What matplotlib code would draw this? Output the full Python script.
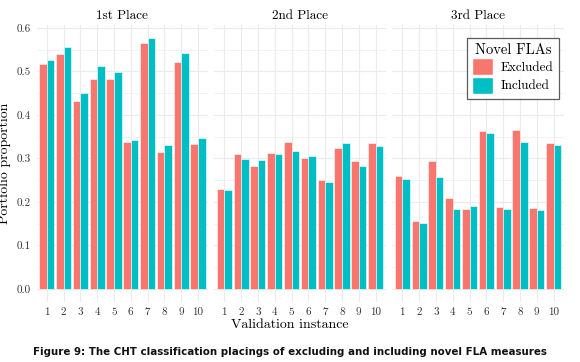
import numpy as np
import matplotlib
matplotlib.use("Agg")
import matplotlib.pyplot as plt
from matplotlib.patches import Patch

# ================= Data =================
instances = [str(i) for i in range(1, 11)]
places = ["1st Place", "2nd Place", "3rd Place"]

first_excluded = [0.516, 0.541, 0.431, 0.482, 0.482, 0.338, 0.566, 0.315, 0.522, 0.334]
first_included = [0.526, 0.555, 0.451, 0.512, 0.498, 0.342, 0.577, 0.331, 0.542, 0.348]
second_excluded = [0.230, 0.309, 0.282, 0.313, 0.338, 0.302, 0.250, 0.325, 0.295, 0.335]
second_included = [0.228, 0.299, 0.297, 0.309, 0.318, 0.305, 0.246, 0.335, 0.283, 0.328]
third_excluded = [0.260, 0.156, 0.293, 0.210, 0.184, 0.364, 0.189, 0.366, 0.186, 0.336]
third_included = [0.252, 0.152, 0.258, 0.183, 0.191, 0.358, 0.183, 0.338, 0.181, 0.331]

excluded = [first_excluded, second_excluded, third_excluded]
included = [first_included, second_included, third_included]

col_excl = "#F8766D"
col_incl = "#00BFC4"
grid_col = "#EBEBEB"

plt.rcParams["font.family"] = "cmr10"
plt.rcParams["mathtext.fontset"] = "cm"
plt.rcParams["axes.formatter.use_mathtext"] = True

fig = plt.figure(figsize=(5.8, 3.62), dpi=100)

# panel geometry (figure fractions)
bottom = 0.167
height = 0.764
width = 0.2957
lefts = [0.0631, 0.3693, 0.6762]

x = np.arange(1, 11)
bw = 0.45
y_lo, y_hi = -0.0289, 0.6066

axes = []
for k in range(3):
    ax = fig.add_axes([lefts[k], bottom, width, height])
    axes.append(ax)
    ax.set_xlim(0.4, 10.6)
    ax.set_ylim(y_lo, y_hi)
    # grid
    for yv in np.arange(0, 0.61, 0.05):
        lw = 0.8 if round(yv * 100) % 10 == 0 else 0.45
        ax.axhline(yv, color=grid_col, lw=lw, zorder=0)
    for xv in x:
        ax.axvline(xv, color=grid_col, lw=0.8, zorder=0)
    ax.bar(x - bw / 2, excluded[k], width=bw, color=col_excl,
           edgecolor="white", linewidth=0.4, zorder=2)
    ax.bar(x + bw / 2, included[k], width=bw, color=col_incl,
           edgecolor="white", linewidth=0.4, zorder=2)
    for s in ax.spines.values():
        s.set_visible(False)
    ax.set_xticks(x)
    ax.set_xticklabels(instances, fontsize=8)
    ax.tick_params(axis="both", length=0, pad=4, colors="#333333")
    ax.set_yticks(np.arange(0, 0.61, 0.1))
    if k == 0:
        ax.set_yticklabels(["%.1f" % v for v in np.arange(0, 0.61, 0.1)], fontsize=8)
    else:
        ax.set_yticklabels([])
    ax.set_title(places[k], fontsize=9.5, pad=4)

axes[0].set_ylabel("Portfolio proportion", fontsize=10, labelpad=4)
fig.text(0.5, 0.103, "Validation instance", ha="center", va="center", fontsize=10)

handles = [Patch(facecolor=col_excl, edgecolor="white"),
           Patch(facecolor=col_incl, edgecolor="white")]
leg = axes[2].legend(handles, ["Excluded", "Included"], title="Novel FLAs",
                     loc="upper right", bbox_to_anchor=(0.973, 0.953), borderaxespad=0,
                     fontsize=9.5, title_fontsize=10.5, frameon=True, fancybox=False,
                     handlelength=1.6, handleheight=1.6, handletextpad=0.6,
                     labelspacing=0.1, borderpad=0.4)
leg.get_frame().set_edgecolor("#333333")
leg.get_frame().set_linewidth(0.9)

fig.text(0.5, 0.028, "Figure 9: The CHT classification placings of excluding and including novel FLA measures",
         ha="center", va="center", fontsize=7.4, fontweight="bold",
         family="DejaVu Sans", color="#111111")

fig.savefig("out.png", dpi=100)
